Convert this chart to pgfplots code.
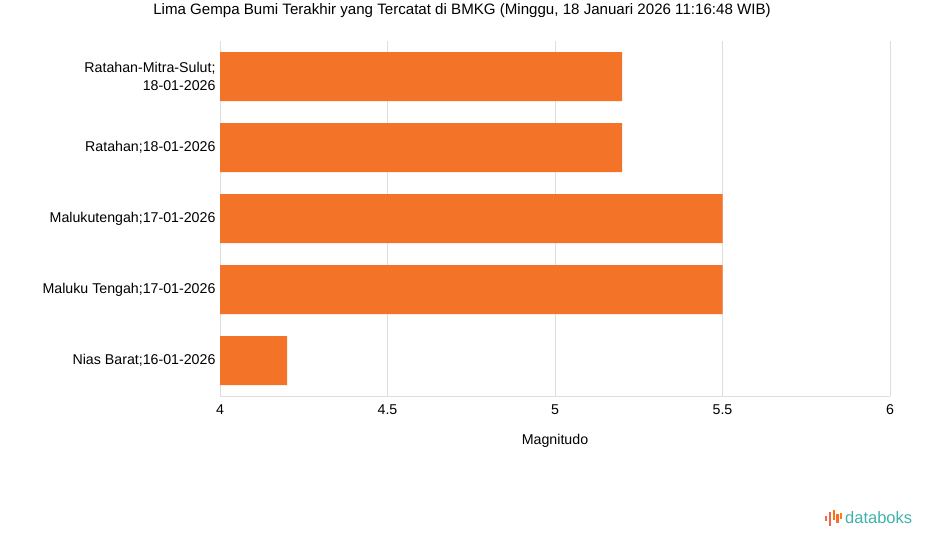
\documentclass[border=0pt]{standalone}
\usepackage{pgfplots}
\pgfplotsset{compat=1.18}
\usepackage{fontspec}
\setmainfont{Liberation Sans}
\definecolor{barorange}{RGB}{243,115,41}
\definecolor{gridgray}{RGB}{222,222,222}
\definecolor{teal}{RGB}{64,178,170}
\definecolor{logored}{RGB}{240,100,80}
\begin{document}
\begin{tikzpicture}[x=1pt,y=1pt]
\useasboundingbox (0,0) rectangle (925,547);
\node[font=\fontsize{15.1}{17}\selectfont] at (462,536) {Lima Gempa Bumi Terakhir yang Tercatat di BMKG (Minggu, 18 Januari 2026 11:16:48 WIB)};
\begin{axis}[
  at={(220pt,151pt)}, anchor=south west,
  scale only axis, width=670pt, height=355pt,
  xbar, bar width=49pt,
  xmin=4, xmax=6, ymin=-0.5, ymax=4.5,
  xtick={4,4.5,5,5.5,6},
  xticklabels={4,4.5,5,5.5,6},
  ytick={0,1,2,3,4},
  yticklabels={Nias Barat;16-01-2026, Maluku Tengah;17-01-2026, Malukutengah;17-01-2026, Ratahan;18-01-2026, {Ratahan-Mitra-Sulut;\\18-01-2026}},
  yticklabel style={align=right, font=\fontsize{14.2}{18}\selectfont, xshift=-1pt},
  xticklabel style={font=\fontsize{14.2}{16}\selectfont, yshift=-5pt},
  xlabel={Magnitudo}, xlabel style={font=\fontsize{14.2}{16}\selectfont, yshift=-13pt},
  major tick length=0pt,
  xmajorgrids, grid style={gridgray, line width=0.8pt},
  axis x line*=bottom, axis y line*=left,
  axis line style={gridgray, line width=0.8pt, -},
  /pgf/number format/assume math mode=true,
]
\addplot[fill=barorange, draw=none, bar shift=0pt] coordinates {(4.2,0) (5.5,1) (5.5,2) (5.2,3) (5.2,4)};
\end{axis}
% databoks logo
\begin{scope}[shift={(825,21)}]
\fill[logored!80!orange] (0,5) rectangle (2.2,10);
\fill[logored] (3.8,0) rectangle (6,14);
\fill[orange!90!red] (7.6,6) rectangle (9.8,16);
\fill[logored!70!orange] (11.4,3) rectangle (13.6,12);
\fill[orange] (15.2,7) rectangle (17.4,13);
\end{scope}
\node[anchor=west, text=teal, font=\fontsize{16.5}{18}\selectfont, inner sep=0pt] at (845,29) {databoks};
\end{tikzpicture}
\end{document}
